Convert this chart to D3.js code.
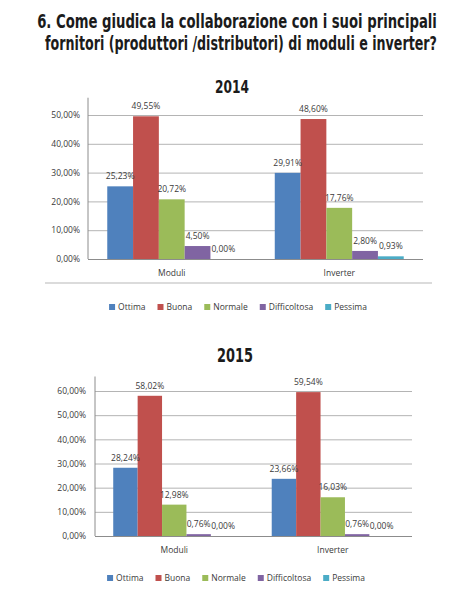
<!DOCTYPE html>
<html>
<head>
<meta charset="utf-8">
<script src="https://cdn.jsdelivr.net/npm/d3@7/dist/d3.min.js"></script>
<style>
  body { margin: 0; background: #fff; }
  svg { display: block; }
</style>
</head>
<body>
<div id="viz"></div>
<script>
// data
var series = ["Ottima", "Buona", "Normale", "Difficoltosa", "Pessima"];
var colors = ["#4F81BD", "#C0504D", "#9BBB59", "#8064A2", "#4BACC6"];
var categories = ["Moduli", "Inverter"];

var values2014Moduli   = [25.23, 49.55, 20.72, 4.50, 0.00];
var values2014Inverter = [29.91, 48.60, 17.76, 2.80, 0.93];
var values2015Moduli   = [28.24, 58.02, 12.98, 0.76, 0.00];
var values2015Inverter = [23.66, 59.54, 16.03, 0.76, 0.00];

var ticks2014 = [0, 10, 20, 30, 40, 50];
var ticks2015 = [0, 10, 20, 30, 40, 50, 60];

var titleLines = [
	"6. Come giudica la collaborazione con i suoi principali",
	"fornitori (produttori /distributori) di moduli e inverter?"
];

var width = 470, height = 600;
var labelFont = "'Open Sans', 'Liberation Sans', sans-serif";
var headFont = "'DejaVu Sans Condensed', 'Liberation Sans Narrow', sans-serif";

var it = d3.formatLocale({decimal: ",", thousands: ".", grouping: [3], currency: ["", "€"]});
var pct = function(v) { return it.format(".2f")(v) + "%"; };

var svg = d3.select("#viz").append("svg")
	.attr("width", width)
	.attr("height", height);

svg.append("rect").attr("width", width).attr("height", height).attr("fill", "#fff");

// squeeze a text horizontally to a given width (condensed headline look)
function squeeze(sel, cx, cy, w) {
	var t = sel.select("text").node();
	var k = w / t.getComputedTextLength();
	sel.attr("transform", "translate(" + cx + "," + cy + ") scale(" + k + ",1)");
}

// title
titleLines.forEach(function(line, i) {
	var tg = svg.append("g");
	tg.append("text")
		.attr("text-anchor", "middle")
		.style("font-family", headFont)
		.style("font-weight", "bold")
		.style("font-size", "19px")
		.style("fill", "#1b1b1b")
		.text(line);
	squeeze(tg, i == 0 ? 237 : 241, 28 + i * 22, i == 0 ? 400 : 392);
});

var charts = [
	{year: "2014", values: [values2014Moduli, values2014Inverter], ticks: ticks2014,
	 left: 88, right: 423, y0: 259, yTop: 115, yearX: 232, yearY: 93, yearSize: 18, yearLen: 34,
	 pad: 8, legendY: 310, legendX: 238, frame: true},
	{year: "2015", values: [values2015Moduli, values2015Inverter], ticks: ticks2015,
	 left: 95, right: 412, y0: 536, yTop: 391, yearX: 235, yearY: 362, yearSize: 20, yearLen: 36,
	 pad: 9, legendY: 581, legendX: 236, frame: false}
];

charts.forEach(drawChart);

function drawChart(c) {
	var g = svg.append("g");
	var maxTick = c.ticks[c.ticks.length - 1];
	var step = c.ticks[1] - c.ticks[0];

	var y = d3.scaleLinear().domain([0, maxTick]).range([c.y0, c.yTop]);
	var x0 = d3.scaleBand().domain(categories).range([c.left, c.right])
		.paddingInner(0.23).paddingOuter(0.115);
	var x1 = d3.scaleBand().domain(series).range([0, x0.bandwidth()]);
	var color = d3.scaleOrdinal().domain(series).range(colors);

	var yg = g.append("g");
	yg.append("text")
		.attr("text-anchor", "middle")
		.style("font-family", headFont)
		.style("font-weight", "bold")
		.style("font-size", c.yearSize + "px")
		.style("fill", "#1b1b1b")
		.text(c.year);
	squeeze(yg, c.yearX, c.yearY, c.yearLen);

	// gridlines + tick labels
	var axis = g.append("g")
		.attr("transform", "translate(" + c.left + ",0)")
		.call(d3.axisLeft(y).tickValues(c.ticks).tickSize(-(c.right - c.left))
			.tickPadding(c.pad).tickFormat(pct));
	axis.select(".domain").remove();
	axis.selectAll(".tick line")
		.attr("stroke", (d) => d == 0 ? "#8c8c8c" : "#b4b4b4")
		.attr("stroke-width", 1);
	axis.selectAll(".tick text")
		.style("font-family", labelFont)
		.style("font-size", "8.5px")
		.style("fill", "#3a3a3a");

	// y axis line, a bit above the last tick like the original
	g.append("line")
		.attr("x1", c.left).attr("x2", c.left)
		.attr("y1", y(0)).attr("y2", y(maxTick + step * 0.6))
		.attr("stroke", "#8c8c8c");

	var rows = categories.map((cat, i) => ({
		cat: cat,
		items: series.map((s, j) => ({s: s, v: c.values[i][j]}))
	}));

	var grp = g.selectAll(".grp")
		.data(rows)
		.enter().append("g")
			.attr("class", "grp")
			.attr("transform", d => "translate(" + x0(d.cat) + ",0)");

	grp.selectAll("rect")
		.data(d => d.items)
		.enter().append("rect")
			.attr("x", d => x1(d.s))
			.attr("y", d => y(d.v))
			.attr("width", x1.bandwidth())
			.attr("height", d => y(0) - y(d.v))
			.attr("fill", d => color(d.s));

	grp.selectAll(".lbl")
		.data(d => d.items)
		.enter().append("text")
			.attr("class", "lbl")
			.attr("x", d => x1(d.s) + x1.bandwidth() / 2)
			.attr("y", d => y(d.v) - 7)
			.attr("text-anchor", "middle")
			.style("font-family", labelFont)
			.style("font-size", "8.5px")
			.style("fill", "#3a3a3a")
			.text(d => pct(d.v));

	g.selectAll(".cat")
		.data(categories)
		.enter().append("text")
			.attr("class", "cat")
			.attr("x", d => x0(d) + x0.bandwidth() / 2)
			.attr("y", c.y0 + 17)
			.attr("text-anchor", "middle")
			.style("font-family", labelFont)
			.style("font-size", "8.5px")
			.style("fill", "#3a3a3a")
			.text(d => d);

	if (c.frame) {
		g.append("line")
			.attr("x1", 45).attr("x2", 432)
			.attr("y1", c.y0 + 24).attr("y2", c.y0 + 24)
			.attr("stroke", "#cfcfcf")
			.attr("stroke-width", 1.5);
	}

	// legend
	var leg = g.append("g");
	var items = leg.selectAll(".li")
		.data(series)
		.enter().append("g")
			.attr("class", "li");
	items.append("rect")
		.attr("width", 6).attr("height", 6)
		.attr("y", c.legendY - 6)
		.attr("fill", d => color(d));
	items.append("text")
		.attr("x", 9)
		.attr("y", c.legendY)
		.style("font-family", labelFont)
		.style("font-size", "8.5px")
		.style("fill", "#3a3a3a")
		.text(d => d);

	var pos = 0;
	items.each(function() {
		var w = this.querySelector("text").getComputedTextLength();
		d3.select(this).attr("transform", "translate(" + pos + ",0)");
		pos += 9 + w + 12;
	});
	var total = pos - 12;
	leg.attr("transform", "translate(" + (c.legendX - total / 2) + ",0)");
}
</script>
</body>
</html>
